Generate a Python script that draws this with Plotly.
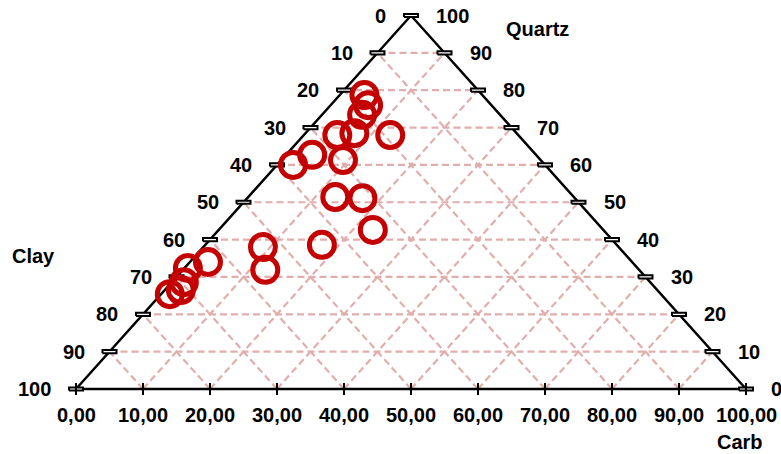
import plotly.graph_objects as go

# ---- data (percent) ----
quartz = [78.7, 76.0, 73.4, 68.5, 68.0, 68.0, 61.3, 62.7, 60.0, 51.4, 51.1, 42.6, 38.6, 38.0, 31.9, 34.0, 32.4, 28.6, 26.5, 25.4]
carb   = [3.7, 5.6, 6.0, 7.3, 5.0, 12.9, 9.2, 3.9, 2.4, 13.0, 17.2, 23.0, 17.4, 8.9, 12.3, 2.7, 0.5, 1.8, 2.4, 1.3]
clay   = [17.6, 18.4, 20.6, 24.2, 27.0, 19.1, 29.5, 33.4, 37.6, 35.6, 31.7, 34.4, 44.0, 53.1, 55.8, 63.3, 67.1, 69.6, 71.1, 73.3]

tick_vals = [0, 10, 20, 30, 40, 50, 60, 70, 80, 90, 100]
carb_labels = ["0,00", "10,00", "20,00", "30,00", "40,00", "50,00", "60,00", "70,00", "80,00", "90,00", "100,00"]
clay_labels = ["0", "10", "20", "30", "40", "50", "60", "70", "80", "90", "100"]
quartz_labels = ["0", "10", "20", "30", "40", "50", "60", "70", "80", "90", "100"]

W, H = 781, 454
# pixel geometry of triangle
PX_L, PX_R, PY_TOP, PY_BOT = 76, 746, 15.5, 389
sx = (PX_R - PX_L) / 100.0
sy = (PY_BOT - PY_TOP) / 100.0
xr = [-PX_L / sx, (W - PX_L) / sx]
yr = [-(H - PY_BOT) / sy, PY_TOP / sy + 100]

def tern(q, c, k):
    t = q + c + k
    q, c = q / t * 100, c / t * 100
    return c + q / 2, q

GRID = "#E2ADAD"
FONT = dict(family="Liberation Sans, Arial, sans-serif", size=20, color="black", weight="bold")

fig = go.Figure()

# grid lines
gx, gy = [], []
for v in tick_vals[1:-1]:
    for a, b in [(tern(v, 0, 100 - v), tern(v, 100 - v, 0)),
                 (tern(0, v, 100 - v), tern(100 - v, v, 0)),
                 (tern(0, 100 - v, v), tern(100 - v, 0, v))]:
        gx += [a[0], b[0], None]
        gy += [a[1], b[1], None]
fig.add_trace(go.Scatter(x=gx, y=gy, mode="lines", hoverinfo="skip",
                         line=dict(color=GRID, width=2.2, dash="7px,4px"), showlegend=False))

# triangle
tri = [tern(0, 0, 100), tern(0, 100, 0), tern(100, 0, 0), tern(0, 0, 100)]
fig.add_trace(go.Scatter(x=[p[0] for p in tri], y=[p[1] for p in tri], mode="lines",
                         line=dict(color="black", width=2.5), hoverinfo="skip",
                         showlegend=False, cliponaxis=False))

# side ticks (small rectangles) and bottom ticks
tx, ty = [], []
hw, hh = 7 / sx, 1.6 / sy
pts = [tern(100 - v, 0, v) for v in tick_vals] + [tern(v, 100 - v, 0) for v in tick_vals]
for (x0, y0) in pts:
    tx += [x0 - hw, x0 + hw, x0 + hw, x0 - hw, x0 - hw, None]
    ty += [y0 - hh, y0 - hh, y0 + hh, y0 + hh, y0 - hh, None]
fig.add_trace(go.Scatter(x=tx, y=ty, mode="lines", line=dict(color="black", width=2),
                         fill="toself", fillcolor="white", hoverinfo="skip",
                         showlegend=False, cliponaxis=False))
bx, by = [], []
for v in tick_vals:
    x0, y0 = tern(0, v, 100 - v)
    bx += [x0, x0, None]
    by += [y0 - 6 / sy, y0 + 6 / sy, None]
fig.add_trace(go.Scatter(x=bx, y=by, mode="lines", line=dict(color="black", width=2),
                         hoverinfo="skip", showlegend=False, cliponaxis=False))

# data points
px_, py_ = zip(*[tern(q, c, k) for q, c, k in zip(quartz, carb, clay)])
fig.add_trace(go.Scatter(x=px_, y=py_, mode="markers", showlegend=False, cliponaxis=False,
                         marker=dict(symbol="circle-open", size=25, color="#C40000",
                                     line=dict(width=5, color="#C40000"))))

ann = []
for v, lab in zip(tick_vals, clay_labels):
    x0, y0 = tern(100 - v, 0, v)
    ann.append(dict(x=x0, y=y0, text=lab, xanchor="right", yanchor="middle", xshift=-23,
                    showarrow=False, font=FONT))
for v, lab in zip(tick_vals, quartz_labels):
    x0, y0 = tern(v, 100 - v, 0)
    ann.append(dict(x=x0, y=y0, text=lab, xanchor="left", yanchor="middle", xshift=23,
                    showarrow=False, font=FONT))
for v, lab in zip(tick_vals, carb_labels):
    x0, y0 = tern(0, v, 100 - v)
    ann.append(dict(x=x0, y=y0, text=lab, xanchor="center", yanchor="middle", yshift=-26,
                    showarrow=False, font=FONT))
for t, px, py in [("Quartz", 537, 29), ("Clay", 33, 256), ("Carb", 740, 442)]:
    ann.append(dict(x=px / W, y=1 - py / H, xref="paper", yref="paper", text=t,
                    xanchor="center", yanchor="middle", showarrow=False, font=FONT))

fig.update_layout(
    width=W, height=H, margin=dict(l=0, r=0, t=0, b=0),
    paper_bgcolor="white", plot_bgcolor="white",
    xaxis=dict(range=xr, visible=False, fixedrange=True),
    yaxis=dict(range=yr, visible=False, fixedrange=True),
    annotations=ann,
)
fig.write_html("out.html")
